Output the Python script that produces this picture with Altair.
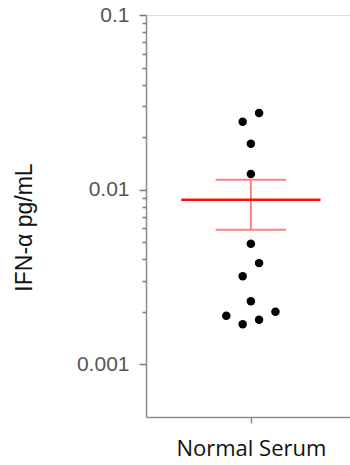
import altair as alt
import pandas as pd

values = [0.0275, 0.0245, 0.0183, 0.0123, 0.0049, 0.0038, 0.0032,
          0.0023, 0.0020, 0.0019, 0.0018, 0.0017]
# beeswarm column of each dot (in dot-widths)
swarm = [1, -1, 0, 0, 0, 1, -1, 0, 3, -3, 1, -1]
group = "Normal Serum"

mean_value = [0.00877]
err_low = [0.0059]
err_high = [0.0114]

y_ticks = [0.001, 0.002, 0.003, 0.004, 0.005, 0.006, 0.007, 0.008, 0.009,
           0.01, 0.02, 0.03, 0.04, 0.05, 0.06, 0.07, 0.08, 0.09, 0.1]

# style constants
MEAN_HALF = 8.5
CAP_HALF = 4.3

pts = pd.DataFrame({"value": values, "swarm": swarm, "group": group})
pts["x"] = pts["swarm"]
summ = pd.DataFrame({"mean": mean_value, "lo": err_low, "hi": err_high})
summ["mx1"] = -MEAN_HALF
summ["mx2"] = MEAN_HALF
summ["cx1"] = -CAP_HALF
summ["cx2"] = CAP_HALF
summ["c"] = 0

xscale = alt.Scale(domain=[-12.8, 12.1], nice=False, zero=False)
yscale = alt.Scale(type="log", domain=[0.0005, 0.1], nice=False)

major_test = "datum.value == 0.1 || datum.value == 0.01 || datum.value == 0.001"

xaxis = alt.Axis(values=[0], labelExpr="'Normal Serum'", title=None, grid=False,
                 domainColor="#8c8c8c", domainWidth=1.5, tickColor="#8c8c8c",
                 tickWidth=1.5, tickSize=6, labelFont="Open Sans", labelFontSize=22,
                 labelColor="#111111", labelPadding=15)
yaxis = alt.Axis(values=y_ticks,
                 labelExpr="datum.value == 0.1 ? '0.1' : datum.value == 0.01 ? '0.01' : datum.value == 0.001 ? '0.001' : ''",
                 title="IFN-α pg/mL", grid=False,
                 domainColor="#8c8c8c", domainWidth=1.5, tickColor="#7a7a7a",
                 tickWidth=1.5,
                 tickSize={"condition": {"test": major_test, "value": 7}, "value": 4},
                 labelFont="Liberation Sans", labelFontSize=21, labelColor="#555555",
                 labelPadding=10, titleFont="Liberation Sans", titleFontSize=23,
                 titleFontWeight="normal", titleColor="#111111",
                 titleX=-122, titleY=212, titleAngle=270, titleAlign="center",
                 titleBaseline="middle")

dots = alt.Chart(pts).mark_circle(size=72, color="black", opacity=1).encode(
    x=alt.X("x:Q", scale=xscale, axis=xaxis),
    y=alt.Y("value:Q", scale=yscale, axis=yaxis),
)

vline = alt.Chart(summ).mark_rule(color="#ff7f7f", strokeWidth=2).encode(
    x=alt.X("c:Q", scale=xscale), y=alt.Y("lo:Q", scale=yscale), y2="hi:Q")
cap_lo = alt.Chart(summ).mark_rule(color="#ff7f7f", strokeWidth=2).encode(
    x=alt.X("cx1:Q", scale=xscale), x2="cx2:Q", y=alt.Y("lo:Q", scale=yscale))
cap_hi = alt.Chart(summ).mark_rule(color="#ff7f7f", strokeWidth=2).encode(
    x=alt.X("cx1:Q", scale=xscale), x2="cx2:Q", y=alt.Y("hi:Q", scale=yscale))
mline = alt.Chart(summ).mark_rule(color="#ff1010", strokeWidth=2.5).encode(
    x=alt.X("mx1:Q", scale=xscale), x2="mx2:Q", y=alt.Y("mean:Q", scale=yscale))

chart = alt.layer(dots, vline, cap_lo, cap_hi, mline).properties(
    width=204, height=402,
    autosize=alt.AutoSizeParams(type="none"),
    padding={"left": 146, "top": 15, "right": 0, "bottom": 48},
).configure_view(stroke=None).configure(background="white")

chart.save("out.html", embed_options={"renderer": "svg", "actions": False})
